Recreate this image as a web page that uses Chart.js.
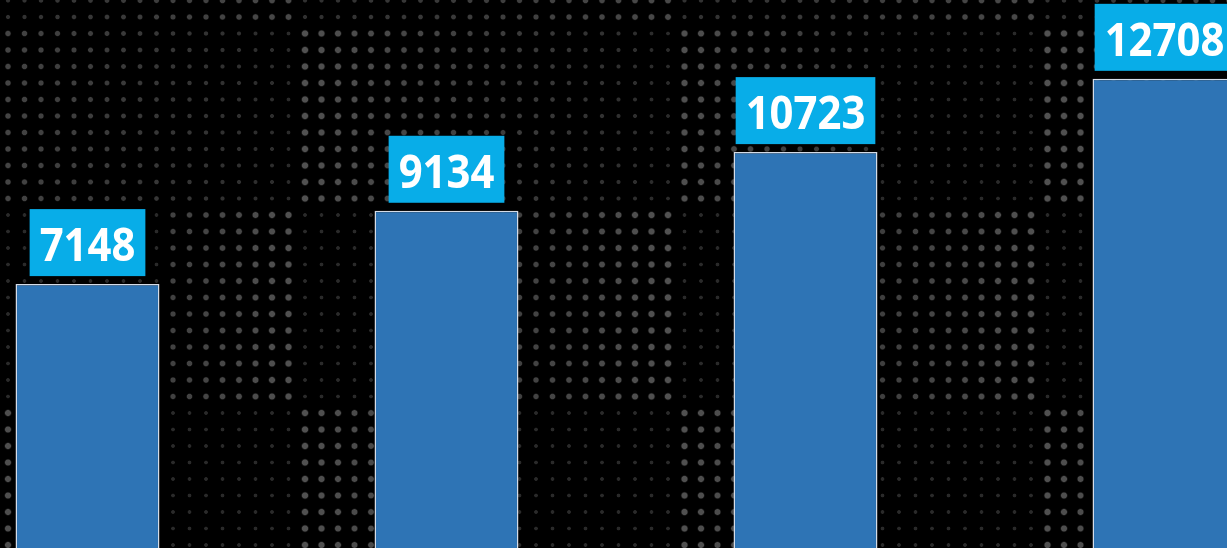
<!DOCTYPE html>
<html>
<head>
<meta charset="utf-8">
<script src="https://cdn.jsdelivr.net/npm/chart.js@4/dist/chart.umd.min.js"></script>
<style>
  html, body { margin: 0; padding: 0; background: #000; overflow: hidden; }
  #page { position: relative; width: 1227px; height: 548px; overflow: hidden; background: #000; }
  #wrap { position: absolute; left: -92px; top: 0; width: 1436px; height: 548px; }
</style>
</head>
<body>
<div id="page">
  <div id="wrap"><canvas id="chart" width="1436" height="548"></canvas></div>
</div>
<script>
const categories = ["1", "2", "3", "4"];
const values = [7148, 9134, 10723, 12708];
const yMax = 14843;

const OFFSET_X = 92; // canvas sits 92px left of the page

// dotted backdrop: bands of dots, each segment fades from one level to another
const bands = [
    { y0: -10, y1: 24, segs: [[0, 300, 0.3, 0.8], [300, 670, 0.3, 0.8], [670, 1036, 0.3, 0.8], [1036, 1240, 0.3, 0.7]] },
    { y0: 24, y1: 215, segs: [[0, 300, 0.7, 0.2], [300, 670, 0.95, 0.2], [670, 880, 0.95, 0.35], [880, 1036, 0.2, 0.2], [1036, 1240, 0.95, 0.8]] },
    { y0: 215, y1: 402, segs: [[0, 160, 0.2, 0.2], [160, 300, 0.6, 0.95], [300, 500, 0.2, 0.2], [500, 670, 0.6, 0.95], [670, 880, 0.2, 0.2], [880, 1036, 0.6, 0.95], [1036, 1240, 0.2, 0.2]] },
    { y0: 402, y1: 560, segs: [[0, 160, 0.9, 0.5], [160, 300, 0.2, 0.2], [300, 500, 0.95, 0.5], [500, 670, 0.2, 0.2], [670, 880, 0.95, 0.5], [880, 1036, 0.2, 0.2], [1036, 1240, 0.95, 0.5]] },
];

const dotsBackground = {
    id: "dotsBackground",
    beforeDraw(chart) {
        const ctx = chart.ctx;
        ctx.save();
        ctx.fillStyle = "#000";
        ctx.fillRect(0, 0, chart.width, chart.height);
        for (let y = 0.5; y < 560; y += 16.5) {
            const band = bands.find(b => y >= b.y0 && y < b.y1);
            if (!band) continue;
            for (let x = 8; x < 1240; x += 16.5) {
                const seg = band.segs.find(s => x >= s[0] && x < s[1]);
                if (!seg) continue;
                const t = (x - seg[0]) / (seg[1] - seg[0]);
                const lvl = seg[2] + (seg[3] - seg[2]) * t;
                const g = Math.round(32 + lvl * 52);
                const r = 1 + lvl * 2.6;
                const grad = ctx.createRadialGradient(x + OFFSET_X, y, 0, x + OFFSET_X, y, r + 1);
                grad.addColorStop(0, `rgb(${g},${g},${g})`);
                grad.addColorStop(0.6, `rgb(${g},${g},${g})`);
                grad.addColorStop(1, "rgba(0,0,0,0)");
                ctx.fillStyle = grad;
                ctx.beginPath();
                ctx.arc(x + OFFSET_X, y, r + 1, 0, Math.PI * 2);
                ctx.fill();
            }
        }
        ctx.restore();
    },
};

const valueBoxes = {
    id: "valueBoxes",
    afterDatasetsDraw(chart) {
        const ctx = chart.ctx;
        const meta = chart.getDatasetMeta(0);
        const sx = 0.91;
        ctx.save();
        ctx.font = 'bold 46px "Open Sans"';
        ctx.textAlign = "center";
        ctx.textBaseline = "alphabetic";
        meta.data.forEach((bar, i) => {
            const txt = String(values[i]);
            const w = ctx.measureText(txt).width * sx + 20;
            const bottom = bar.y - 8;
            ctx.fillStyle = "#08ADE8";
            ctx.fillRect(bar.x - w / 2, bottom - 67, w, 67);
            ctx.save();
            ctx.translate(bar.x, bottom - 15);
            ctx.scale(sx, 1);
            ctx.fillStyle = "#fff";
            ctx.fillText(txt, 0, 0);
            ctx.restore();
        });
        ctx.restore();
    },
};

new Chart(document.getElementById("chart"), {
    type: "bar",
    data: {
        labels: categories,
        datasets: [
            {
                data: values,
                backgroundColor: "#2E74B5",
                borderColor: "#D4DCE8",
                borderWidth: 1.5,
                categoryPercentage: 1,
                barPercentage: 0.401,
            },
        ],
    },
    options: {
        responsive: false,
        animation: false,
        layout: { padding: 0 },
        plugins: { legend: { display: false }, tooltip: { enabled: false } },
        scales: {
            x: { display: false },
            y: { display: false, min: 0, max: yMax },
        },
    },
    plugins: [dotsBackground, valueBoxes],
});
</script>
</body>
</html>
